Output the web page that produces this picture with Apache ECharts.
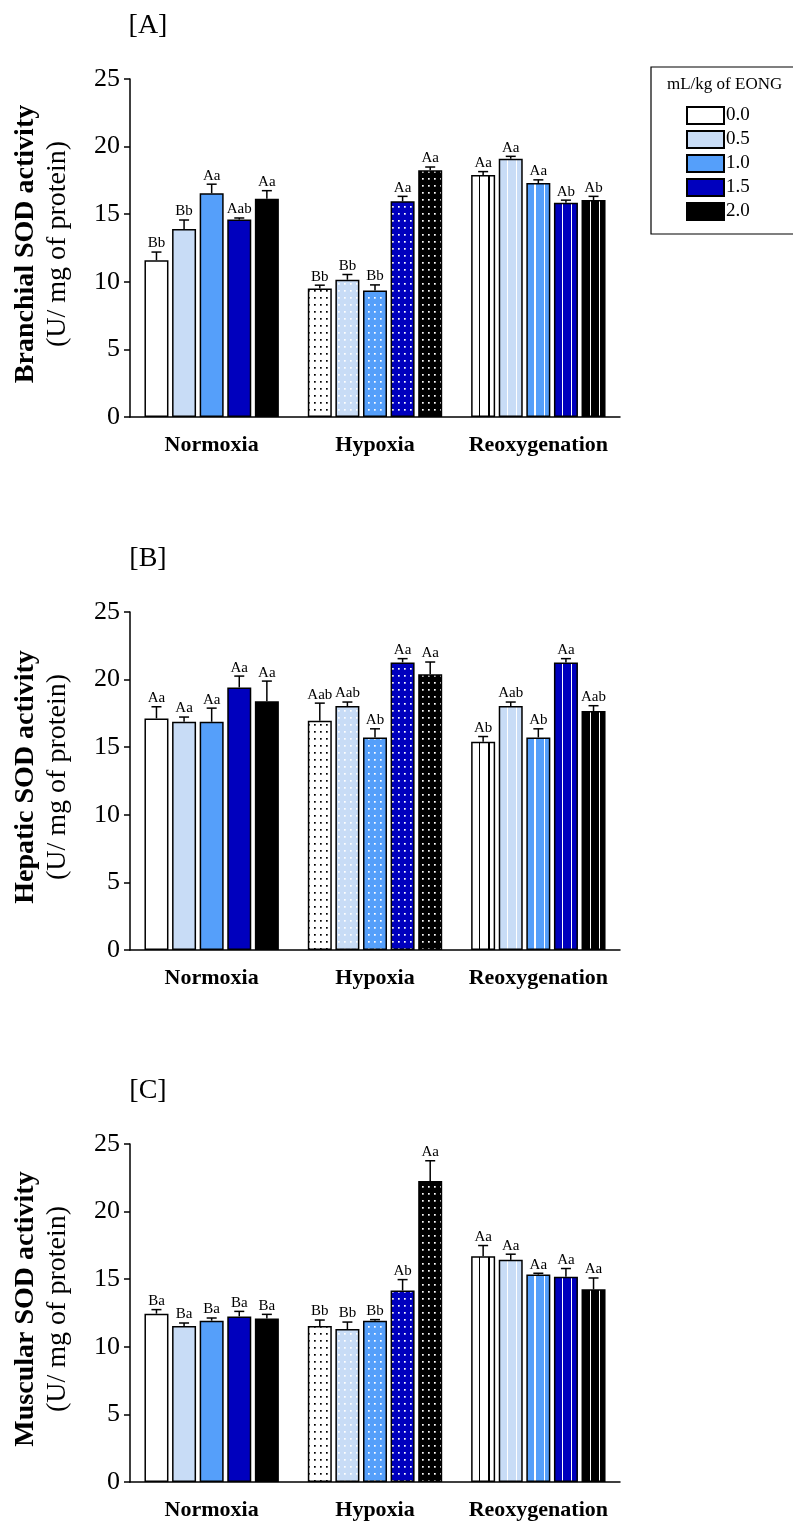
<!DOCTYPE html>
<html>
<head>
<meta charset="utf-8">
<script src="https://cdn.jsdelivr.net/npm/echarts@6/dist/echarts.min.js"></script>
<style>
html, body { margin: 0; padding: 0; background: #fff; }
#chart { width: 793px; height: 1522px; }
</style>
</head>
<body>
<div id="chart"></div>
<script>
var groups = ['Normoxia', 'Hypoxia', 'Reoxygenation'];
var doses = ['0.0', '0.5', '1.0', '1.5', '2.0'];
var doseColors = ['#FFFFFF', '#C8DCF6', '#559FFA', '#0000BE', '#000000'];

// mean per dose, per group (Normoxia, Hypoxia, Reoxygenation)
var branchialMean = [[11.6, 9.5, 17.9], [13.9, 10.15, 19.1], [16.55, 9.35, 17.3], [14.6, 15.95, 15.85], [16.15, 18.25, 16.05]];
var branchialErr = [[0.6, 0.25, 0.25], [0.67, 0.39, 0.18], [0.67, 0.42, 0.24], [0.12, 0.37, 0.19], [0.59, 0.24, 0.27]];
var branchialTags = [['Bb', 'Bb', 'Aa'], ['Bb', 'Bb', 'Aa'], ['Aa', 'Bb', 'Aa'], ['Aab', 'Aa', 'Ab'], ['Aa', 'Aa', 'Ab']];

var hepaticMean = [[17.13, 16.95, 15.4], [16.88, 18.04, 18.04], [16.88, 15.72, 15.72], [19.42, 21.27, 21.27], [18.39, 20.39, 17.67]];
var hepaticErr = [[0.86, 1.31, 0.39], [0.35, 0.3, 0.3], [1.01, 0.64, 0.64], [0.84, 0.28, 0.28], [1.5, 0.91, 0.4]];
var hepaticTags = [['Aa', 'Aab', 'Ab'], ['Aa', 'Aab', 'Aab'], ['Aa', 'Ab', 'Ab'], ['Aa', 'Aa', 'Aa'], ['Aa', 'Aa', 'Aab']];

var muscularMean = [[12.45, 11.54, 16.7], [11.54, 11.31, 16.43], [11.93, 11.93, 15.34], [12.25, 14.16, 15.19], [12.1, 22.26, 14.25]];
var muscularErr = [[0.3, 0.44, 0.79], [0.22, 0.52, 0.42], [0.2, 0.08, 0.1], [0.37, 0.81, 0.6], [0.3, 1.5, 0.84]];
var muscularTags = [['Ba', 'Bb', 'Aa'], ['Ba', 'Bb', 'Aa'], ['Ba', 'Bb', 'Aa'], ['Ba', 'Ab', 'Aa'], ['Ba', 'Aa', 'Aa']];

var yTitles = ['Branchial SOD activity', 'Hepatic SOD activity', 'Muscular SOD activity'];
var panelTags = ['[A]', '[B]', '[C]'];

var panels = [
    {mean: branchialMean, err: branchialErr, tags: branchialTags},
    {mean: hepaticMean, err: hepaticErr, tags: hepaticTags},
    {mean: muscularMean, err: muscularErr, tags: muscularTags}
];

var serif = 'Liberation Serif, Times New Roman, serif';
var gridTops = [79, 612, 1144];
var gridH = 338;
var barW = 24;
var barStep = 27.6;

// dotted fill for Hypoxia
function dotPattern(bg, dot) {
    var c = document.createElement('canvas');
    c.width = 6;
    c.height = 7;
    var ctx = c.getContext('2d');
    ctx.fillStyle = bg;
    ctx.fillRect(0, 0, 6, 7);
    ctx.fillStyle = dot;
    ctx.fillRect(2, 3, 1.7, 1.7);
    return {image: c, repeat: 'repeat'};
}

// two thin vertical lines for Reoxygenation
function stripes(bg, line) {
    return {
        type: 'linear', x: 0, y: 0, x2: 1, y2: 0,
        colorStops: [
            {offset: 0, color: bg}, {offset: 0.34, color: bg},
            {offset: 0.34, color: line}, {offset: 0.39, color: line},
            {offset: 0.39, color: bg}, {offset: 0.72, color: bg},
            {offset: 0.72, color: line}, {offset: 0.77, color: line},
            {offset: 0.77, color: bg}, {offset: 1, color: bg}
        ]
    };
}

function fillFor(d, g) {
    var bg = doseColors[d];
    var fg = d === 0 ? '#000000' : '#FFFFFF';
    if (g === 1) return dotPattern(bg, fg);
    if (g === 2) return stripes(bg, fg);
    return bg;
}

var grids = [], xAxes = [], yAxes = [], series = [], graphics = [];

panels.forEach(function (p, pi) {
    grids.push({left: 130, width: 490, top: gridTops[pi], height: gridH});
    xAxes.push({
        type: 'category', gridIndex: pi, data: groups,
        axisLine: {lineStyle: {color: '#000', width: 1.5}},
        axisTick: {alignWithLabel: true, length: 8, lineStyle: {color: '#000', width: 1.5}},
        axisLabel: {interval: 0, color: '#000', fontFamily: serif, fontWeight: 'bold', fontSize: 22, margin: 17}
    });
    yAxes.push({
        type: 'value', gridIndex: pi, min: 0, max: 25, interval: 5,
        splitLine: {show: false},
        axisLine: {show: true, lineStyle: {color: '#000', width: 1.5}},
        axisTick: {show: true, length: 6, lineStyle: {color: '#000', width: 1.5}},
        axisLabel: {color: '#000', fontFamily: serif, fontSize: 26, margin: 10}
    });

    doses.forEach(function (dose, d) {
        series.push({
            name: dose, type: 'bar', xAxisIndex: pi, yAxisIndex: pi,
            barWidth: barW, barGap: '15%',
            itemStyle: {color: doseColors[d], borderColor: '#000', borderWidth: 1.5},
            data: groups.map(function (g, gi) {
                return {value: p.mean[d][gi], itemStyle: {color: fillFor(d, gi)}};
            })
        });
        series.push({
            name: 'err' + pi + d, type: 'custom', xAxisIndex: pi, yAxisIndex: pi, z: 5,
            encode: {x: 0, y: 1},
            data: groups.map(function (g, gi) { return [gi, p.mean[d][gi], p.err[d][gi]]; }),
            renderItem: function (params, api) {
                var gi = api.value(0), m = api.value(1), e = api.value(2);
                var base = api.coord([gi, m]);
                var top = api.coord([gi, m + e]);
                var cx = base[0] + (d - 2) * barStep;
                var ls = {stroke: '#000', lineWidth: 1.5};
                return {
                    type: 'group',
                    children: [
                        {type: 'line', shape: {x1: cx, y1: base[1], x2: cx, y2: top[1]}, style: ls},
                        {type: 'line', shape: {x1: cx - 5, y1: top[1], x2: cx + 5, y2: top[1]}, style: ls},
                        {type: 'text', x: cx, y: top[1] - 1, style: {
                            text: p.tags[d][gi], fill: '#000', font: '15px ' + serif,
                            align: 'center', verticalAlign: 'bottom'
                        }}
                    ]
                };
            }
        });
    });

    var midY = gridTops[pi] + gridH / 2;
    graphics.push({
        type: 'text', x: 148, y: gridTops[pi] - 53,
        style: {text: panelTags[pi], font: '28px ' + serif, fill: '#000', align: 'center', verticalAlign: 'middle'}
    });
    graphics.push({
        type: 'text', x: 26, y: midY - 4, rotation: Math.PI / 2,
        style: {text: yTitles[pi], font: 'bold 28px ' + serif, fill: '#000', align: 'center', verticalAlign: 'middle'}
    });
    graphics.push({
        type: 'text', x: 58, y: midY - 4, rotation: Math.PI / 2,
        style: {text: '(U/ mg of protein)', font: '28px ' + serif, fill: '#000', align: 'center', verticalAlign: 'middle'}
    });
});

// legend frame and heading
graphics.push({
    type: 'rect', shape: {x: 651, y: 67, width: 160, height: 167},
    style: {fill: 'none', stroke: '#000', lineWidth: 1.2}
});
graphics.push({
    type: 'text', x: 667, y: 85,
    style: {text: 'mL/kg of EONG', font: '17px ' + serif, fill: '#000', align: 'left', verticalAlign: 'middle'}
});

var chart = echarts.init(document.getElementById('chart'));
chart.setOption({
    animation: false,
    backgroundColor: '#fff',
    legend: {
        data: doses, orient: 'vertical', left: 686, top: 106, padding: 0,
        itemWidth: 37, itemHeight: 17, itemGap: 5, icon: 'rect',
        textStyle: {fontFamily: serif, fontSize: 19, color: '#000', padding: [0, 0, 0, -3]}
    },
    grid: grids,
    xAxis: xAxes,
    yAxis: yAxes,
    series: series,
    graphic: graphics
});
</script>
</body>
</html>
